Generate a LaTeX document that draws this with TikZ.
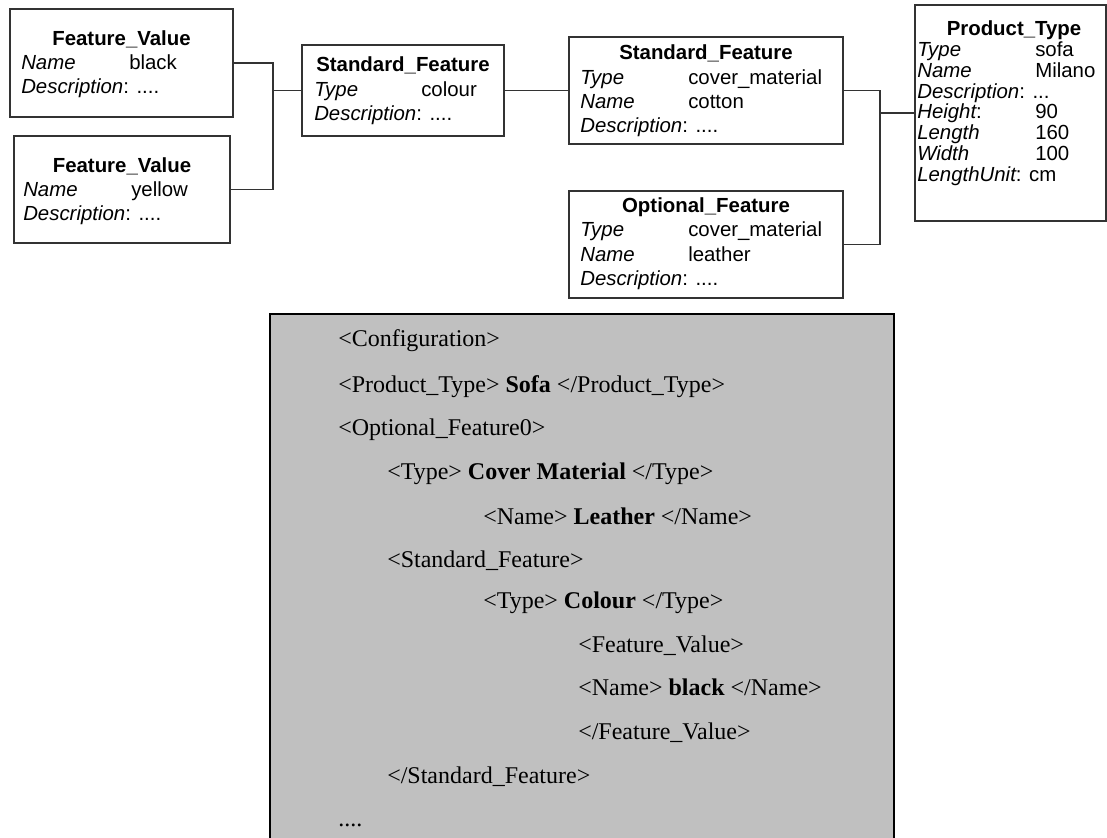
\documentclass[tikz,border=0pt]{standalone}
\usepackage{fontspec}
\setmainfont{Liberation Serif}
\newfontfamily\arial{Liberation Sans}
\usetikzlibrary{fit}
\newcommand\boxfont{\arial\fontsize{15.3}{18}\selectfont}
\newcommand\codefont{\fontsize{18}{21}\selectfont}
\definecolor{codegray}{HTML}{C0C0C0}
\definecolor{framegray}{HTML}{333333}
\tikzset{
  boxfr/.style={draw=framegray, line width=0.8pt, fill=white, inner sep=0pt},
  ttl/.style={font=\boxfont\bfseries, anchor=base, inner sep=0pt},
  lbl/.style={font=\boxfont\itshape, anchor=base west, inner sep=0pt},
  val/.style={font=\boxfont, anchor=base west, inner sep=0pt},
  link/.style={draw=framegray, line width=0.8pt},
  codebox/.style={fill=codegray, draw=black, line width=1.5pt, inner sep=0pt},
  xml/.style={font=\codefont, anchor=base west, inner sep=0pt},
}
\begin{document}
\begin{tikzpicture}[x=0.75pt,y=-0.75pt]
\useasboundingbox (0,0) rectangle (1107,838);
\clip (0,0) rectangle (1107,838);

% --- feature value boxes ---
\node[boxfr, fit={(10,9) (233,117)}] (fv1) {};
\node[ttl] (fv1t) at (121.5,46) {Feature\_Value};
\node[lbl] (fv1a) at (21,70) {Name};
\node[val] (fv1b) at (129,70) {black};
\node[lbl] (fv1c) at (21,94) {Description\upshape: ....};

\node[boxfr, fit={(14,136) (230,243)}] (fv2) {};
\node[ttl] (fv2t) at (122,173) {Feature\_Value};
\node[lbl] (fv2a) at (23,197) {Name};
\node[val] (fv2b) at (131,197) {yellow};
\node[lbl] (fv2c) at (23,221) {Description\upshape: ....};

% --- standard feature: colour ---
\node[boxfr, fit={(302,45) (504,136)}] (sfc) {};
\node[ttl] (sfct) at (403,72) {Standard\_Feature};
\node[lbl] (sfca) at (314,97) {Type};
\node[val] (sfcb) at (421,97) {colour};
\node[lbl] (sfcc) at (314,121) {Description\upshape: ....};

% --- standard feature: cover material ---
\node[boxfr, fit={(569,37) (843,144)}] (sfm) {};
\node[ttl] (sfmt) at (706,60) {Standard\_Feature};
\node[lbl] (sfma) at (580,85) {Type};
\node[val] (sfmb) at (688,85) {cover\_material};
\node[lbl] (sfmc) at (580,109) {Name};
\node[val] (sfmd) at (688,109) {cotton};
\node[lbl] (sfme) at (580,133) {Description\upshape: ....};

% --- optional feature ---
\node[boxfr, fit={(569,191) (843,298)}] (ofm) {};
\node[ttl] (ofmt) at (706,213) {Optional\_Feature};
\node[lbl] (ofma) at (580,237) {Type};
\node[val] (ofmb) at (688,237) {cover\_material};
\node[lbl] (ofmc) at (580,262) {Name};
\node[val] (ofmd) at (688,262) {leather};
\node[lbl] (ofme) at (580,286) {Description\upshape: ....};

% --- product type ---
\node[boxfr, fit={(915,5) (1106,221)}] (pt) {};
\node[ttl] (ptt) at (1014,36) {Product\_Type};
\node[lbl] (pta) at (917,57) {Type};
\node[val] (ptb) at (1035,57) {sofa};
\node[lbl] (ptc) at (917,78) {Name};
\node[val] (ptd) at (1035,78) {Milano};
\node[lbl] (pte) at (917,99) {Description\upshape: ...};
\node[lbl] (ptf) at (917,119) {Height\upshape:};
\node[val] (ptg) at (1035,119) {90};
\node[lbl] (pth) at (917,140) {Length};
\node[val] (pti) at (1035,140) {160};
\node[lbl] (ptj) at (917,161) {Width};
\node[val] (ptk) at (1035,161) {100};
\node[lbl] (ptl) at (917,182) {LengthUnit\upshape: cm};

% --- connectors ---
\coordinate (jl) at (273,90.5);
\coordinate (jr) at (880,113);
\draw[link] (fv1.east) -| (jl) |- (fv2.east);
\draw[link] (jl) -- (sfc.west);
\draw[link] (sfc.east) -- (sfm.west);
\draw[link] (sfm.east) -| (jr) |- (ofm.east);
\draw[link] (jr) -- (pt.west);

% --- configuration listing ---
\node[codebox, fit={(270,314) (894,870)}] (cfg) {};
\node[xml] (c1) at (338,346) {<Configuration>};
\node[xml] (c2) at (338,392) {<Product\_Type> \textbf{Sofa} </Product\_Type>};
\node[xml] (c3) at (338,435) {<Optional\_Feature0>};
\node[xml] (c4) at (387,479) {<Type> \textbf{Cover Material} </Type>};
\node[xml] (c5) at (483,524) {<Name> \textbf{Leather} </Name>};
\node[xml] (c6) at (387,567) {<Standard\_Feature>};
\node[xml] (c7) at (483,608) {<Type> \textbf{Colour} </Type>};
\node[xml] (c8) at (578,652) {<Feature\_Value>};
\node[xml] (c9) at (578,695) {<Name> \textbf{black} </Name>};
\node[xml] (c10) at (578,739) {</Feature\_Value>};
\node[xml] (c11) at (387,783) {</Standard\_Feature>};
\node[xml] (c12) at (338,826) {....};
\end{tikzpicture}
\end{document}
